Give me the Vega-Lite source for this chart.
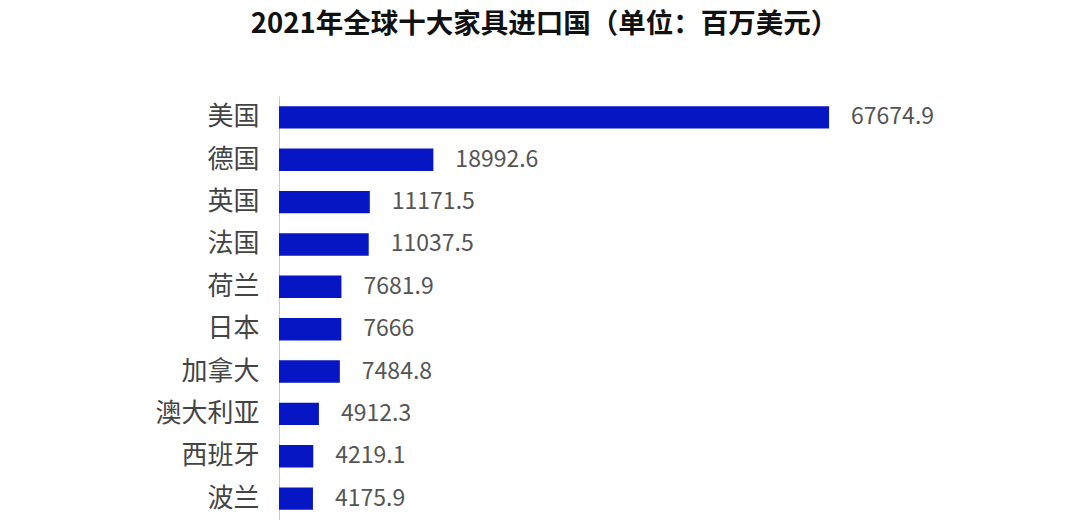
{
  "$schema": "https://vega.github.io/schema/vega-lite/v6.json",
  "autosize": {"type": "none"},
  "padding": {"left": 279, "top": 96, "right": 0, "bottom": 0},
  "width": 699,
  "height": 424,
  "background": "white",
  "title": {
    "text": "2021年全球十大家具进口国（单位：百万美元）",
    "font": "Noto Sans CJK SC",
    "fontSize": 27.5,
    "fontWeight": "bold",
    "color": "#111111",
    "anchor": "middle",
    "dx": -84,
    "offset": 58
  },
  "data": {
    "values": [
      {"country": "美国", "value": 67674.9},
      {"country": "德国", "value": 18992.6},
      {"country": "英国", "value": 11171.5},
      {"country": "法国", "value": 11037.5},
      {"country": "荷兰", "value": 7681.9},
      {"country": "日本", "value": 7666},
      {"country": "加拿大", "value": 7484.8},
      {"country": "澳大利亚", "value": 4912.3},
      {"country": "西班牙", "value": 4219.1},
      {"country": "波兰", "value": 4175.9}
    ]
  },
  "encoding": {
    "y": {
      "field": "country",
      "type": "nominal",
      "sort": null,
      "scale": {"paddingInner": 0.47, "paddingOuter": 0.24},
      "axis": {
        "title": null,
        "ticks": false,
        "domainColor": "#c8c8c8",
        "domainWidth": 1,
        "labelFont": "Noto Sans CJK SC",
        "labelFontSize": 26,
        "labelColor": "#444444",
        "labelPadding": 20
      }
    },
    "x": {
      "field": "value",
      "type": "quantitative",
      "scale": {"domain": [0, 86000], "nice": false},
      "axis": null
    }
  },
  "layer": [
    {"mark": {"type": "bar", "color": "#0716C4"}},
    {
      "mark": {
        "type": "text",
        "align": "left",
        "dx": 22,
        "font": "Noto Sans CJK SC",
        "fontSize": 23,
        "color": "#555555"
      },
      "encoding": {"text": {"field": "value", "type": "quantitative", "format": ".6~"}}
    }
  ],
  "config": {"view": {"stroke": null}}
}
